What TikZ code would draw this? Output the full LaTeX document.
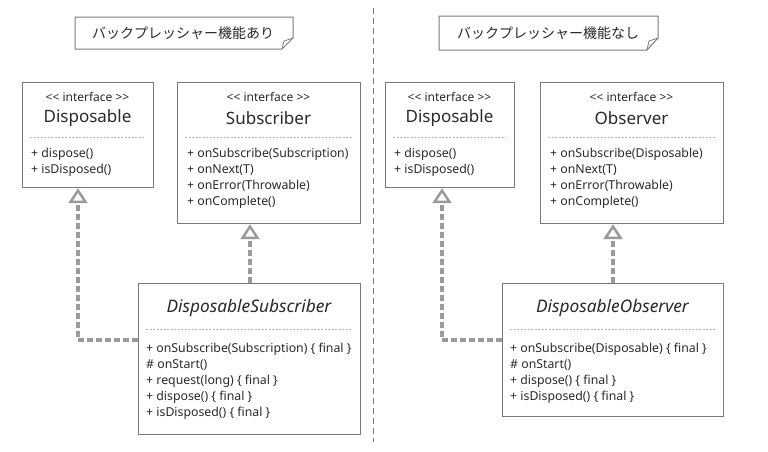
\documentclass[tikz,border=0pt]{standalone}
\usepackage{fontspec}
\setmainfont{Noto Sans}
\newfontfamily\cjkfont{Noto Sans CJK JP}
\usetikzlibrary{arrows.meta}
\definecolor{boxline}{HTML}{7A7A7A}
\definecolor{txt}{HTML}{2A2A2A}
\definecolor{conn}{HTML}{9A9A9A}
\definecolor{sepc}{HTML}{B8B8B8}
\newcommand{\stereotxt}{{<}{<} interface {>}{>}}
\begin{document}
\begin{tikzpicture}[x=1pt,y=-1pt,
  umlbox/.style={draw=boxline, line width=1.2pt, fill=white, rectangle, anchor=north west, inner sep=0pt},
  stereo/.style={text=txt, font=\fontsize{12}{14}\selectfont, inner sep=0pt},
  title/.style={text=txt, font=\fontsize{17}{20}\selectfont, inner sep=0pt},
  ititle/.style={text=txt, font=\itshape\fontsize{17.3}{20}\selectfont, inner sep=0pt},
  member/.style={text=txt, font=\fontsize{12.3}{14}\selectfont, inner sep=0pt, anchor=west},
  sepline/.style={draw=sepc, line width=0.6pt, dash pattern=on 2pt off 1.5pt},
  impl/.style={draw=conn, line width=4.5pt, dash pattern=on 6pt off 3pt,
    -{Triangle[open, length=15pt, width=19pt, line width=2.5pt]}},
  notetext/.style={text=txt, font=\cjkfont\fontsize{14}{16}\selectfont, inner sep=0pt},
  noteline/.style={draw=boxline, line width=1pt, fill=white},
  divider/.style={draw=boxline, line width=0.8pt, dash pattern=on 6pt off 4pt}
]
\useasboundingbox (0,0) rectangle (768,451);

% divider
\coordinate (divtop) at (373,8);
\coordinate (divbot) at (373,442);
\draw[divider] (divtop) -- (divbot);

% notes
\draw[noteline] (75,17) -- (293,17) -- (293,38) -- (282,49) -- (75,49) -- cycle;
\draw[boxline, line width=0.8pt] (282,49) -- (284,41) -- (293,38);
\node[notetext] (noteL) at (183,33) {バックプレッシャー機能あり};

\draw[noteline] (439,16) -- (658,16) -- (658,38) -- (647,50) -- (439,50) -- cycle;
\draw[boxline, line width=0.8pt] (647,50) -- (649,41) -- (658,38);
\node[notetext] (noteR) at (548,33) {バックプレッシャー機能なし};

% ===== left side =====
\node[umlbox, minimum width=131pt, minimum height=105pt] (dispL) at (22,82) {};
\node[stereo] (dispLst) at (87.5,97) {\stereotxt};
\node[title] (dispLt) at (87.5,118) {Disposable};
\draw[sepline] (30,137) -- (145,137);
\node[member] (dispLm1) at (31,154) {+ dispose()};
\node[member] (dispLm2) at (31,170) {+ isDisposed()};

\node[umlbox, minimum width=183pt, minimum height=141pt] (subL) at (177,82) {};
\node[stereo] (subLst) at (268.5,97) {\stereotxt};
\node[title] (subLt) at (268.5,118) {Subscriber};
\draw[sepline] (185,137) -- (352,137);
\node[member] (subLm1) at (187,154) {+ onSubscribe(Subscription)};
\node[member] (subLm2) at (187,170) {+ onNext(T)};
\node[member] (subLm3) at (187,186) {+ onError(Throwable)};
\node[member] (subLm4) at (187,202) {+ onComplete()};

\node[umlbox, minimum width=222pt, minimum height=151pt] (dsubL) at (138,283) {};
\node[ititle] (dsubLt) at (249,308) {DisposableSubscriber};
\draw[sepline] (146,329) -- (352,329);
\node[member] (dsubLm1) at (146,349) {+ onSubscribe(Subscription) \{ final \}};
\node[member] (dsubLm2) at (146,365) {\# onStart()};
\node[member] (dsubLm3) at (146,381) {+ request(long) \{ final \}};
\node[member] (dsubLm4) at (146,397) {+ dispose() \{ final \}};
\node[member] (dsubLm5) at (146,413) {+ isDisposed() \{ final \}};

\coordinate (cL1) at (78,340);
\coordinate (cL2) at (250,283);
\draw[impl] (dsubL.west |- cL1) -- (cL1) -- (cL1 |- dispL.south);
\draw[impl] (cL2) -- (cL2 |- subL.south);

% ===== right side =====
\node[umlbox, minimum width=129pt, minimum height=105pt] (dispR) at (385,82) {};
\node[stereo] (dispRst) at (449.5,97) {\stereotxt};
\node[title] (dispRt) at (449.5,118) {Disposable};
\draw[sepline] (393,137) -- (506,137);
\node[member] (dispRm1) at (394,154) {+ dispose()};
\node[member] (dispRm2) at (394,170) {+ isDisposed()};

\node[umlbox, minimum width=183pt, minimum height=141pt] (obsR) at (540,82) {};
\node[stereo] (obsRst) at (631.5,97) {\stereotxt};
\node[title] (obsRt) at (631.5,118) {Observer};
\draw[sepline] (548,137) -- (715,137);
\node[member] (obsRm1) at (550,154) {+ onSubscribe(Disposable)};
\node[member] (obsRm2) at (550,170) {+ onNext(T)};
\node[member] (obsRm3) at (550,186) {+ onError(Throwable)};
\node[member] (obsRm4) at (550,202) {+ onComplete()};

\node[umlbox, minimum width=221pt, minimum height=133pt] (dobsR) at (502,283) {};
\node[ititle] (dobsRt) at (612.5,308) {DisposableObserver};
\draw[sepline] (510,329) -- (715,329);
\node[member] (dobsRm1) at (510,349) {+ onSubscribe(Disposable) \{ final \}};
\node[member] (dobsRm2) at (510,365) {\# onStart()};
\node[member] (dobsRm3) at (510,381) {+ dispose() \{ final \}};
\node[member] (dobsRm4) at (510,397) {+ isDisposed() \{ final \}};

\coordinate (cR1) at (442,340);
\coordinate (cR2) at (613,283);
\draw[impl] (dobsR.west |- cR1) -- (cR1) -- (cR1 |- dispR.south);
\draw[impl] (cR2) -- (cR2 |- obsR.south);
\end{tikzpicture}
\end{document}
